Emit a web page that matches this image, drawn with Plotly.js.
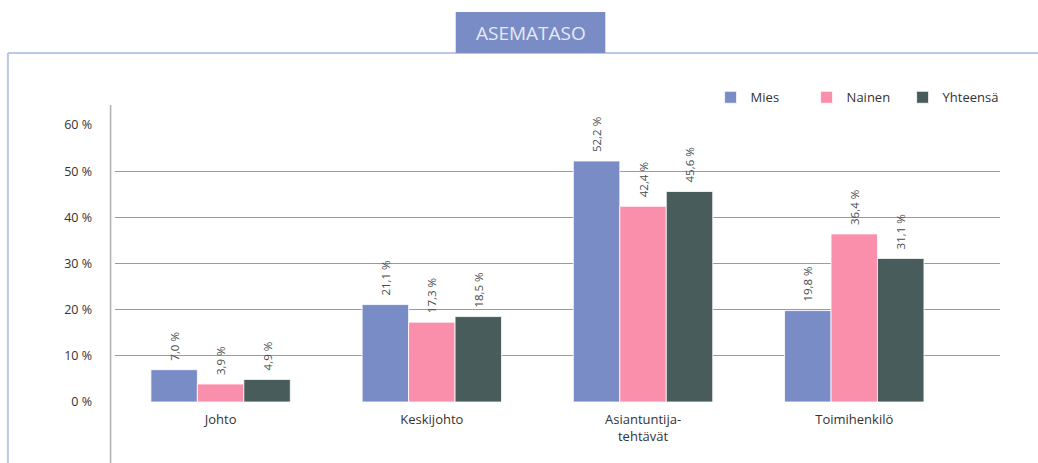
<!DOCTYPE html>
<html><head><meta charset="utf-8">
<script src="https://cdn.plot.ly/plotly-3.0.1.min.js"></script>
<style>html,body{margin:0;padding:0;background:#fff}#chart{width:1038px;height:463px}</style>
</head><body><div id="chart"></div>
<script>
const categories = ["Johto", "Keskijohto", "Asiantuntija-<br>tehtävät", "Toimihenkilö"];
const mies = [7.0, 21.1, 52.2, 19.8];
const nainen = [3.9, 17.3, 42.4, 36.4];
const yhteensa = [4.9, 18.5, 45.6, 31.1];
const yTicks = [0, 10, 20, 30, 40, 50, 60];
const yTickText = ["0 %", "10 %", "20 %", "30 %", "40 %", "50 %", "60 %"];

const fmt = v => '\u00a0\u00a0' + v.toFixed(1).replace('.', ',') + ' %';
const idx = categories.map((c, i) => i);

function series(name, vals, color) {
  return {
    type: 'bar', name: name, x: idx, y: vals,
    marker: {color: color, line: {color: 'rgba(255,255,255,0.8)', width: 1}},
    text: vals.map(fmt), textposition: 'outside', textangle: -90,
    textfont: {size: 11.5, color: '#4a4a4a', family: 'Open Sans, sans-serif'},
    cliponaxis: false, constraintext: 'none', hoverinfo: 'skip'
  };
}

const data = [
  series('Mies', mies, '#7a8cc6'),
  series('Nainen', nainen, '#fa8fab'),
  series('Yhteensä', yhteensa, '#485c5c')
];

const layout = {
  width: 1038, height: 463,
  margin: {l: 115, r: 38, t: 125, b: 61},
  paper_bgcolor: '#fff', plot_bgcolor: '#fff',
  font: {family: 'Open Sans, sans-serif', color: '#333'},
  barmode: 'group', bargap: 0.34, bargroupgap: 0,
  showlegend: true,
  legend: {orientation: 'h', x: 0.673, xanchor: 'left', y: 1.1, yanchor: 'middle',
           font: {size: 13, color: '#333'}, traceorder: 'normal', entrywidth: 51, entrywidthmode: 'pixels'},
  xaxis: {
    range: [-0.5, 3.69], tickmode: 'array', tickvals: idx, ticktext: categories,
    showgrid: false, zeroline: false, showline: false, ticks: '', ticklabelstandoff: 8,
    tickfont: {size: 13, color: '#333'}
  },
  yaxis: {
    range: [0, 60], tickmode: 'array', tickvals: yTicks, ticktext: yTickText,
    showgrid: true, gridcolor: '#9a9a9a', gridwidth: 1,
    zeroline: false, showline: false, ticks: '', ticklabelstandoff: 22,
    tickfont: {size: 12.5, color: '#333'}
  },
  shapes: [
    {type: 'line', xref: 'paper', yref: 'paper', x0: -0.005, x1: -0.005, y0: -0.22, y1: 1.072,
     line: {color: '#b0b0b0', width: 1.5}},
    {type: 'line', xref: 'paper', yref: 'paper', x0: -0.121, x1: 1.045, y0: 1.26, y1: 1.26,
     line: {color: '#bcc6e8', width: 2}},
    {type: 'line', xref: 'paper', yref: 'paper', x0: -0.121, x1: -0.121, y0: 1.26, y1: -0.25,
     line: {color: '#bcc6e8', width: 2}},
    {type: 'rect', xref: 'paper', yref: 'paper', x0: 0.385, x1: 0.554, y0: 1.26, y1: 1.408,
     fillcolor: '#7a8cc6', line: {width: 0}}
  ],
  annotations: [
    {xref: 'paper', yref: 'paper', x: 0.4695, y: 1.332, text: 'ASEMATASO', showarrow: false,
     font: {size: 19, color: '#e6eaf6', family: 'Open Sans, sans-serif'}, xanchor: 'center', yanchor: 'middle'}
  ]
};

Plotly.newPlot('chart', data, layout, {displayModeBar: false, staticPlot: true});
</script></body></html>
